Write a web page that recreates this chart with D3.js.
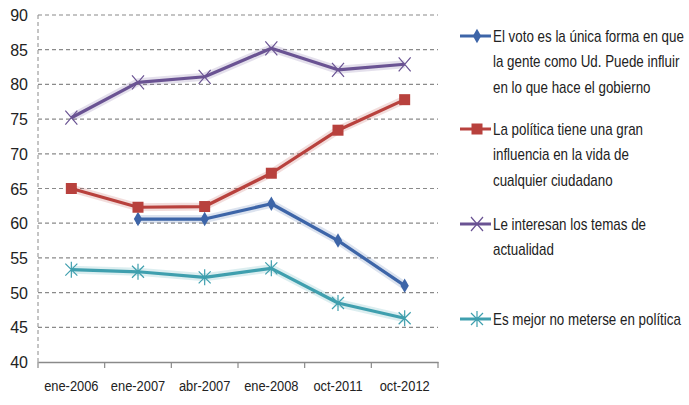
<!DOCTYPE html>
<meta charset="utf-8">
<style>
  body { margin: 0; background: #fff; }
  text { font-family: "Liberation Sans", "DejaVu Sans Condensed", sans-serif; fill: #222; }
</style>
<svg width="689" height="405"></svg>
<script src="https://d3js.org/d3.v7.min.js"></script>
<script>
// categorías del eje x
const fechas = ["ene-2006", "ene-2007", "abr-2007", "ene-2008", "oct-2011", "oct-2012"];
// series (null = sin dato)
const voto = [null, 60.6, 60.6, 62.8, 57.5, 51.0];
const politica = [65.0, 62.3, 62.4, 67.2, 73.4, 77.8];
const interes = [75.2, 80.3, 81.1, 85.2, 82.1, 82.9];
const noMeterse = [53.3, 53.0, 52.2, 53.5, 48.5, 46.3];
const yTicks = [40, 45, 50, 55, 60, 65, 70, 75, 80, 85, 90];

const series = [
  {name: ["El voto es la única forma en que", "la gente como Ud. Puede influir", "en lo que hace el gobierno"], values: voto, color: "#3d65a8", mark: "diamond"},
  {name: ["La política tiene una gran", "influencia en la vida de", "cualquier ciudadano"], values: politica, color: "#b8413d", mark: "square"},
  {name: ["Le interesan los temas de", "actualidad"], values: interes, color: "#6a5393", mark: "x"},
  {name: ["Es mejor no meterse en política"], values: noMeterse, color: "#3f9fae", mark: "star"}
];

const svg = d3.select("svg");
const mLeft = 38, mRight = 438, mTop = 15, mBottom = 362;

const x = d3.scaleBand().domain(fechas).range([mLeft, mRight]);
const y = d3.scaleLinear().domain([40, 90]).range([mBottom, mTop]);

// rejilla
svg.append("g").selectAll("line").data(yTicks.filter(d => d > 40)).enter().append("line")
  .attr("x1", mLeft).attr("x2", mRight)
  .attr("y1", d => y(d)).attr("y2", d => y(d))
  .attr("stroke", "#8a8a8a").attr("stroke-width", 1.2).attr("stroke-dasharray", "4,3");

// eje y (línea discontinua) y etiquetas
svg.append("line").attr("x1", mLeft).attr("x2", mLeft).attr("y1", mTop).attr("y2", mBottom)
  .attr("stroke", "#8a8a8a").attr("stroke-width", 1).attr("stroke-dasharray", "4,3");
svg.append("g").selectAll("text").data(yTicks).enter().append("text")
  .attr("x", 28).attr("y", d => y(d) + 6).attr("text-anchor", "end")
  .attr("font-size", 16).attr("transform-origin", "28 0")
  .text(d => d);

// eje x
const axisX = d3.axisBottom(x).tickSize(0).tickPadding(19);
const gx = svg.append("g").attr("transform", "translate(0," + mBottom + ")").call(axisX);
gx.attr("font-family", null);
gx.select(".domain").attr("stroke", "#8a8a8a").attr("stroke-width", 1.5);
gx.selectAll("text").attr("font-size", 14).attr("fill", "#222")
  .attr("transform", "scale(0.92,1)");
svg.append("g").selectAll("line").data(d3.range(fechas.length + 1)).enter().append("line")
  .attr("x1", i => mLeft + i * x.step()).attr("x2", i => mLeft + i * x.step())
  .attr("y1", mBottom).attr("y2", mBottom + 6)
  .attr("stroke", "#8a8a8a").attr("stroke-width", 1.2);

function marker(g, type, color) {
  if (type === "diamond") {
    g.append("path").attr("d", d3.symbol(d3.symbolDiamond, 60)()).attr("fill", color);
  } else if (type === "square") {
    g.append("rect").attr("x", -5.5).attr("y", -5.5).attr("width", 11).attr("height", 11).attr("fill", color);
  } else if (type === "x") {
    g.append("path").attr("d", "M-6,-7L6,7M-6,7L6,-7").attr("stroke", color).attr("stroke-width", 1.2).attr("fill", "none");
  } else {
    g.append("path").attr("d", "M-6,-6L6,6M-6,6L6,-6M0,-8L0,8").attr("stroke", color).attr("stroke-width", 1.2).attr("fill", "none");
  }
}

const cx = d => x(d) + x.bandwidth() / 2;
const line = d3.line().defined(d => d.v != null).x(d => cx(d.f)).y(d => y(d.v));

series.forEach(s => {
  const pts = s.values.map((v, i) => ({f: fechas[i], v: v}));
  // halo
  svg.append("path").datum(pts).attr("d", line).attr("fill", "none")
    .attr("stroke", s.color).attr("stroke-opacity", 0.18).attr("stroke-width", 8).attr("stroke-linejoin", "round");
  svg.append("path").datum(pts).attr("d", line).attr("fill", "none")
    .attr("stroke", s.color).attr("stroke-width", 3.2).attr("stroke-linejoin", "round");
  pts.filter(d => d.v != null).forEach(d => {
    marker(svg.append("g").attr("transform", "translate(" + cx(d.f) + "," + y(d.v) + ")"), s.mark, s.color);
  });
});

// leyenda
const legendY = [36, 129, 224, 319];
const legTexts = [];
series.forEach((s, i) => {
  const g = svg.append("g").attr("transform", "translate(460," + legendY[i] + ")");
  g.append("line").attr("x1", 0).attr("x2", 31).attr("stroke", s.color).attr("stroke-width", 3);
  marker(g.append("g").attr("transform", "translate(17,0)"), s.mark, s.color);
  const tg = g.append("g").attr("transform", "translate(33,0)");
  s.name.forEach((t, j) => {
    legTexts.push(tg.append("text").attr("x", 0).attr("y", 6 + j * 25.5).attr("font-size", 16).text(t));
  });
});
// comprimir el texto de la leyenda como en el original (fuente estrecha)
const w0 = legTexts[0].node().getComputedTextLength();
const k = 191 / w0;
legTexts.forEach(t => t.attr("transform", "scale(" + k + ",1)"));
</script>
